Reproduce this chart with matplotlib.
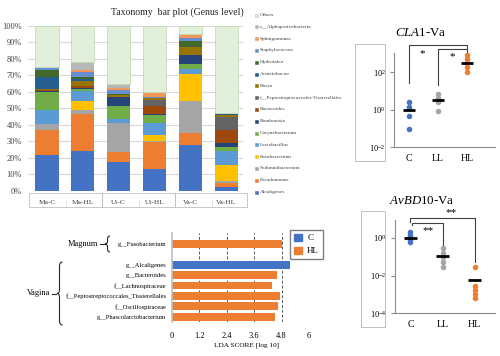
import matplotlib.pyplot as plt
from matplotlib.patches import Rectangle, PathPatch, Patch
from matplotlib.path import Path
import numpy as np

plt.rcParams['font.family'] = ['Liberation Serif', 'DejaVu Serif']
plt.rcParams['mathtext.fontset'] = 'custom'
plt.rcParams['mathtext.rm'] = 'Liberation Serif'
plt.rcParams['mathtext.it'] = 'Liberation Serif:italic'

W, H = 500, 356

# --- taxonomy bar plot (percent, bottom to top) ---
samples = ['Ma-C', 'Ma-HL', 'Ut-C', 'Ut-HL', 'Va-C', 'Va-HL']
alcaligenes = [21.3, 24.1, 17.6, 13.0, 27.9, 2.0]
pseudomonas = [15.2, 22.5, 6.1, 16.6, 7.3, 2.5]
sediminibacterium = [4.0, 2.4, 17.6, 0.4, 19.1, 1.4]
fusobacterium = [0.0, 5.7, 0.0, 4.0, 16.3, 9.3]
lactobacillus = [8.5, 5.5, 2.2, 7.3, 3.4, 9.1]
corynebacterium = [11.0, 1.8, 7.9, 4.4, 3.0, 2.0]
romboutsia = [0.3, 0.3, 5.2, 0.8, 5.2, 2.8]
bacteroides = [0.7, 1.0, 0.3, 4.9, 0.0, 7.5]
peptostrep = [0.0, 0.5, 0.2, 3.6, 0.0, 8.3]
bosea = [0.5, 2.7, 0.8, 1.0, 5.2, 1.2]
acinetobacter = [7.5, 1.2, 0.4, 0.3, 0.0, 0.2]
hydrotalea = [4.5, 1.3, 0.5, 0.2, 3.5, 0.5]
staphylococcus = [0.8, 3.2, 2.0, 0.3, 2.0, 0.0]
sphingomonas = [0.3, 1.2, 1.5, 2.7, 2.0, 0.0]
alphaproteo = [0.3, 4.7, 2.2, 0.2, 0.1, 0.2]
others = [25.1, 21.9, 35.5, 40.3, 5.0, 53.0]

genera = ['Alcaligenes', 'Pseudomonas', 'Sediminibacterium', 'Fusobacterium',
          'Lactobacillus', 'Corynebacterium', 'Romboutsia', 'Bacteroides',
          'f__Peptostreptococcales-Tissierellales', 'Bosea', 'Acinetobacter',
          'Hydrotalea', 'Staphylococcus', 'Sphingomonas',
          'c__Alphaproteobacteria', 'Others']
stack = [alcaligenes, pseudomonas, sediminibacterium, fusobacterium,
         lactobacillus, corynebacterium, romboutsia, bacteroides, peptostrep,
         bosea, acinetobacter, hydrotalea, staphylococcus, sphingomonas,
         alphaproteo, others]
genus_colors = ['#4472C4', '#ED7D31', '#A5A5A5', '#FFC000', '#5B9BD5',
                '#70AD47', '#264478', '#9E480E', '#636363', '#997300',
                '#255E91', '#43682B', '#698ED0', '#F1975A', '#B7B7B7',
                '#E2EFDA']

# --- qPCR dot plots ---
groups = ['C', 'LL', 'HL']
dot_colors = ['#4472C4', '#A5A5A5', '#ED7D31']
cla1_c = [2.7, 1.4, 0.48, 0.098]
cla1_ll = [7.1, 4.2, 2.5, 0.81]
cla1_hl = [850, 500, 310, 190, 102]
cla1_means = [1.0, 3.3, 310]
avbd10_c = [2.0, 1.5, 1.1, 0.8, 0.6]
avbd10_ll = [0.28, 0.16, 0.093, 0.055, 0.030]
avbd10_hl = [0.027, 0.0028, 0.0017, 0.0010, 0.0006]
avbd10_means = [1.0, 0.11, 0.0058]

# --- LEfSe ---
lda_taxa = ['g__Fusobacterium', 'g__Alcaligenes', 'g__Bacteroides',
            'f__Lachnospiraceae', 'f__Peptostreptococcales_Tissierellales',
            'f__Oscillospiraceae', 'g__Phascolarctobacterium']
lda_site = ['Magnum', 'Vagina', 'Vagina', 'Vagina', 'Vagina', 'Vagina', 'Vagina']
lda_class = ['HL', 'C', 'HL', 'HL', 'HL', 'HL', 'HL']
lda_scores = [4.81, 5.15, 4.59, 4.37, 4.74, 4.66, 4.52]
lda_ticks = [0, 1.2, 2.4, 3.6, 4.8, 6]
class_colors = {'C': '#4472C4', 'HL': '#ED7D31'}

fig = plt.figure(figsize=(W / 100, H / 100), dpi=100)


def px_axes(x0, y0, x1, y1):
    return fig.add_axes([x0 / W, 1 - y1 / H, (x1 - x0) / W, (y1 - y0) / H])


ov = fig.add_axes([0, 0, 1, 1])
ov.set_xlim(0, W)
ov.set_ylim(H, 0)
ov.axis('off')

# taxonomy bars
ax = px_axes(28, 26, 243, 190.5)
x = np.arange(len(samples))
bottom = np.zeros(len(samples))
for name, vals, col in zip(genera, stack, genus_colors):
    ec = '#C6DCB6' if name == 'Others' else 'none'
    ax.bar(x, vals, 0.65, bottom=bottom, color=col, edgecolor=ec, lw=0.6, zorder=2)
    bottom += np.array(vals)
ax.set_xlim(-0.53, 5.47)
ax.set_ylim(0, 100)
ax.set_yticks(range(0, 101, 10), [f'{v}%' for v in range(0, 101, 10)])
ax.yaxis.grid(True, color='#D9D9D9', lw=0.8, zorder=0)
ax.set_xticks(x, samples)
for s in ax.spines.values():
    s.set_visible(False)
ax.tick_params(length=0, labelsize=6, colors='#404040', pad=4.5)
ax.tick_params(axis='x', labelsize=5.3, pad=7)
ov.text(177, 12, 'Taxonomy  bar plot (Genus level)', ha='center', va='center',
        fontsize=7, color='#262626')
for x0, x1 in [(29, 102), (102, 175), (175, 247)]:
    ov.add_patch(Rectangle((x0, 193), x1 - x0, 14, fill=False, ec='#BFBFBF', lw=0.6))
for xs in [66, 139, 212]:
    ov.plot([xs, xs], [200, 207], color='#D9D9D9', lw=0.5)

for i, (name, col) in enumerate(zip(genera[::-1], genus_colors[::-1])):
    yy = 15 + i * 11.8
    ov.add_patch(Rectangle((255, yy - 1.5), 3, 3, fc=col,
                           ec='#A9C99A' if name == 'Others' else col, lw=0.4))
    ov.text(260, yy, name, fontsize=3.9, va='center', color='#404040')


def dot_panel(box, xlim, ylim, vals_list, means):
    a = px_axes(*box)
    for i, (vals, col) in enumerate(zip(vals_list, dot_colors)):
        a.scatter(np.full(len(vals), i), vals, s=16, color=col, zorder=2,
                  clip_on=False, lw=0)
        a.hlines(means[i], i - 0.2, i + 0.2, color='k', lw=2, zorder=3)
    a.set_yscale('log')
    a.set_xlim(*xlim)
    a.set_ylim(*ylim)
    a.minorticks_off()
    a.spines[['top', 'right']].set_visible(False)
    a.spines[['left', 'bottom']].set_color('#8C8C8C')
    a.set_xticks(range(3), groups)
    a.tick_params(axis='x', length=0, labelsize=7, pad=5)
    a.tick_params(axis='y', length=3, color='#8C8C8C', labelsize=6, pad=3)
    return a


def bracket(a, x0, x1, ytop, y0, y1):
    a.plot([x0, x0, x1, x1], [y0, ytop, ytop, y1], color='#404040', lw=0.8,
           clip_on=False)


a1 = dot_panel((394, 53, 495, 147), (-0.52, 2.97), (10 ** -1.97, 10 ** 3.04),
               [cla1_c, cla1_ll, cla1_hl], cla1_means)
a1.set_yticks([1e-2, 1, 1e2])
bracket(a1, 0, 2, 2950, 27, 2030)
bracket(a1, 1, 2, 1730, 21, 1290)
a1.text(0.45, 970, '*', ha='center', va='center', fontsize=8)
a1.text(1.48, 670, '*', ha='center', va='center', fontsize=8)
ov.text(421, 33, r'$\mathit{CLA1}$-Va', ha='center', va='center', fontsize=9.3)
ov.add_patch(Rectangle((355, 44), 30, 117, fill=False, ec='#BFBFBF', lw=0.7))

a2 = dot_panel((395, 220, 495, 313), (-0.48, 2.63), (1e-4, 10 ** 0.96),
               [avbd10_c, avbd10_ll, avbd10_hl], avbd10_means)
a2.set_yticks([1e-4, 1e-2, 1])
bracket(a2, 0, 2, 11.7, 7.0, 0.052)
bracket(a2, 0.05, 1, 6.3, 4.9, 0.42)
a2.text(0.54, 2.4, '**', ha='center', va='center', fontsize=8)
a2.text(1.27, 24, '**', ha='center', va='center', fontsize=8)
ov.text(422, 201, r'$\mathit{AvBD10}$-Va', ha='center', va='center', fontsize=9.3)
ov.add_patch(Rectangle((361, 211), 24, 116, fill=False, ec='#BFBFBF', lw=0.7))

# LEfSe bars
pos = [i + (s != lda_site[0]) for i, s in enumerate(lda_site)]
a3 = px_axes(172, 233, 309, 322)
a3.barh(pos, lda_scores, height=0.75, color=[class_colors[c] for c in lda_class],
        zorder=2)
a3.set_ylim(7.5, -1.05)
a3.set_xlim(0, 6)
for t in lda_ticks[1:]:
    a3.axvline(t, color='#555555', lw=0.7, ls=(0, (3, 2)), zorder=1)
a3.set_xticks(lda_ticks, ['0', '1.2', '2.4', '3.6', '4.8', '6'])
a3.set_yticks(pos, lda_taxa)
for s in ['top', 'right', 'bottom']:
    a3.spines[s].set_visible(False)
a3.spines['left'].set_color('#BFBFBF')
a3.spines['left'].set_linewidth(1.2)
a3.tick_params(axis='x', length=0, labelsize=6, pad=7)
a3.tick_params(axis='y', length=0, labelsize=4.7, pad=4)
ov.text(246, 345, 'LDA SCORE [log 10]', ha='center', va='center', fontsize=5.2)
a3.legend(handles=[Patch(color=class_colors[c], label=c) for c in ['C', 'HL']],
          loc='upper left', bbox_to_anchor=(290 / W, 1 - 230 / H),
          bbox_transform=fig.transFigure, fontsize=6.5, fancybox=False,
          edgecolor='#7F7F7F', framealpha=1, handlelength=0.9, handleheight=0.8,
          handletextpad=0.6, labelspacing=0.5, borderpad=0.4, borderaxespad=0)


def brace(xb, y0, y1, tip, end):
    ym = (y0 + y1) / 2
    r = min(4, (y1 - y0) / 6)
    verts = [(end, y0), (xb, y0), (xb, y0 + r), (xb, ym - r), (xb, ym), (tip, ym),
             (xb, ym), (xb, ym + r), (xb, y1 - r), (xb, y1), (end, y1)]
    codes = [Path.MOVETO, Path.CURVE3, Path.CURVE3, Path.LINETO, Path.CURVE3,
             Path.CURVE3, Path.CURVE3, Path.CURVE3, Path.LINETO, Path.CURVE3,
             Path.CURVE3]
    ov.add_patch(PathPatch(Path(verts, codes), fill=False, lw=0.8, ec='#262626'))
    ov.plot([tip - 5, tip - 1], [ym, ym], color='#262626', lw=0.8)


ov.text(98, 244, 'Magnum', ha='right', va='center', fontsize=6)
brace(107.5, 236, 252, 105, 110)
ov.text(50, 293, 'Vagina', ha='right', va='center', fontsize=6)
brace(59.5, 262, 325, 57, 62.5)

fig.savefig('out.png', dpi=100)
